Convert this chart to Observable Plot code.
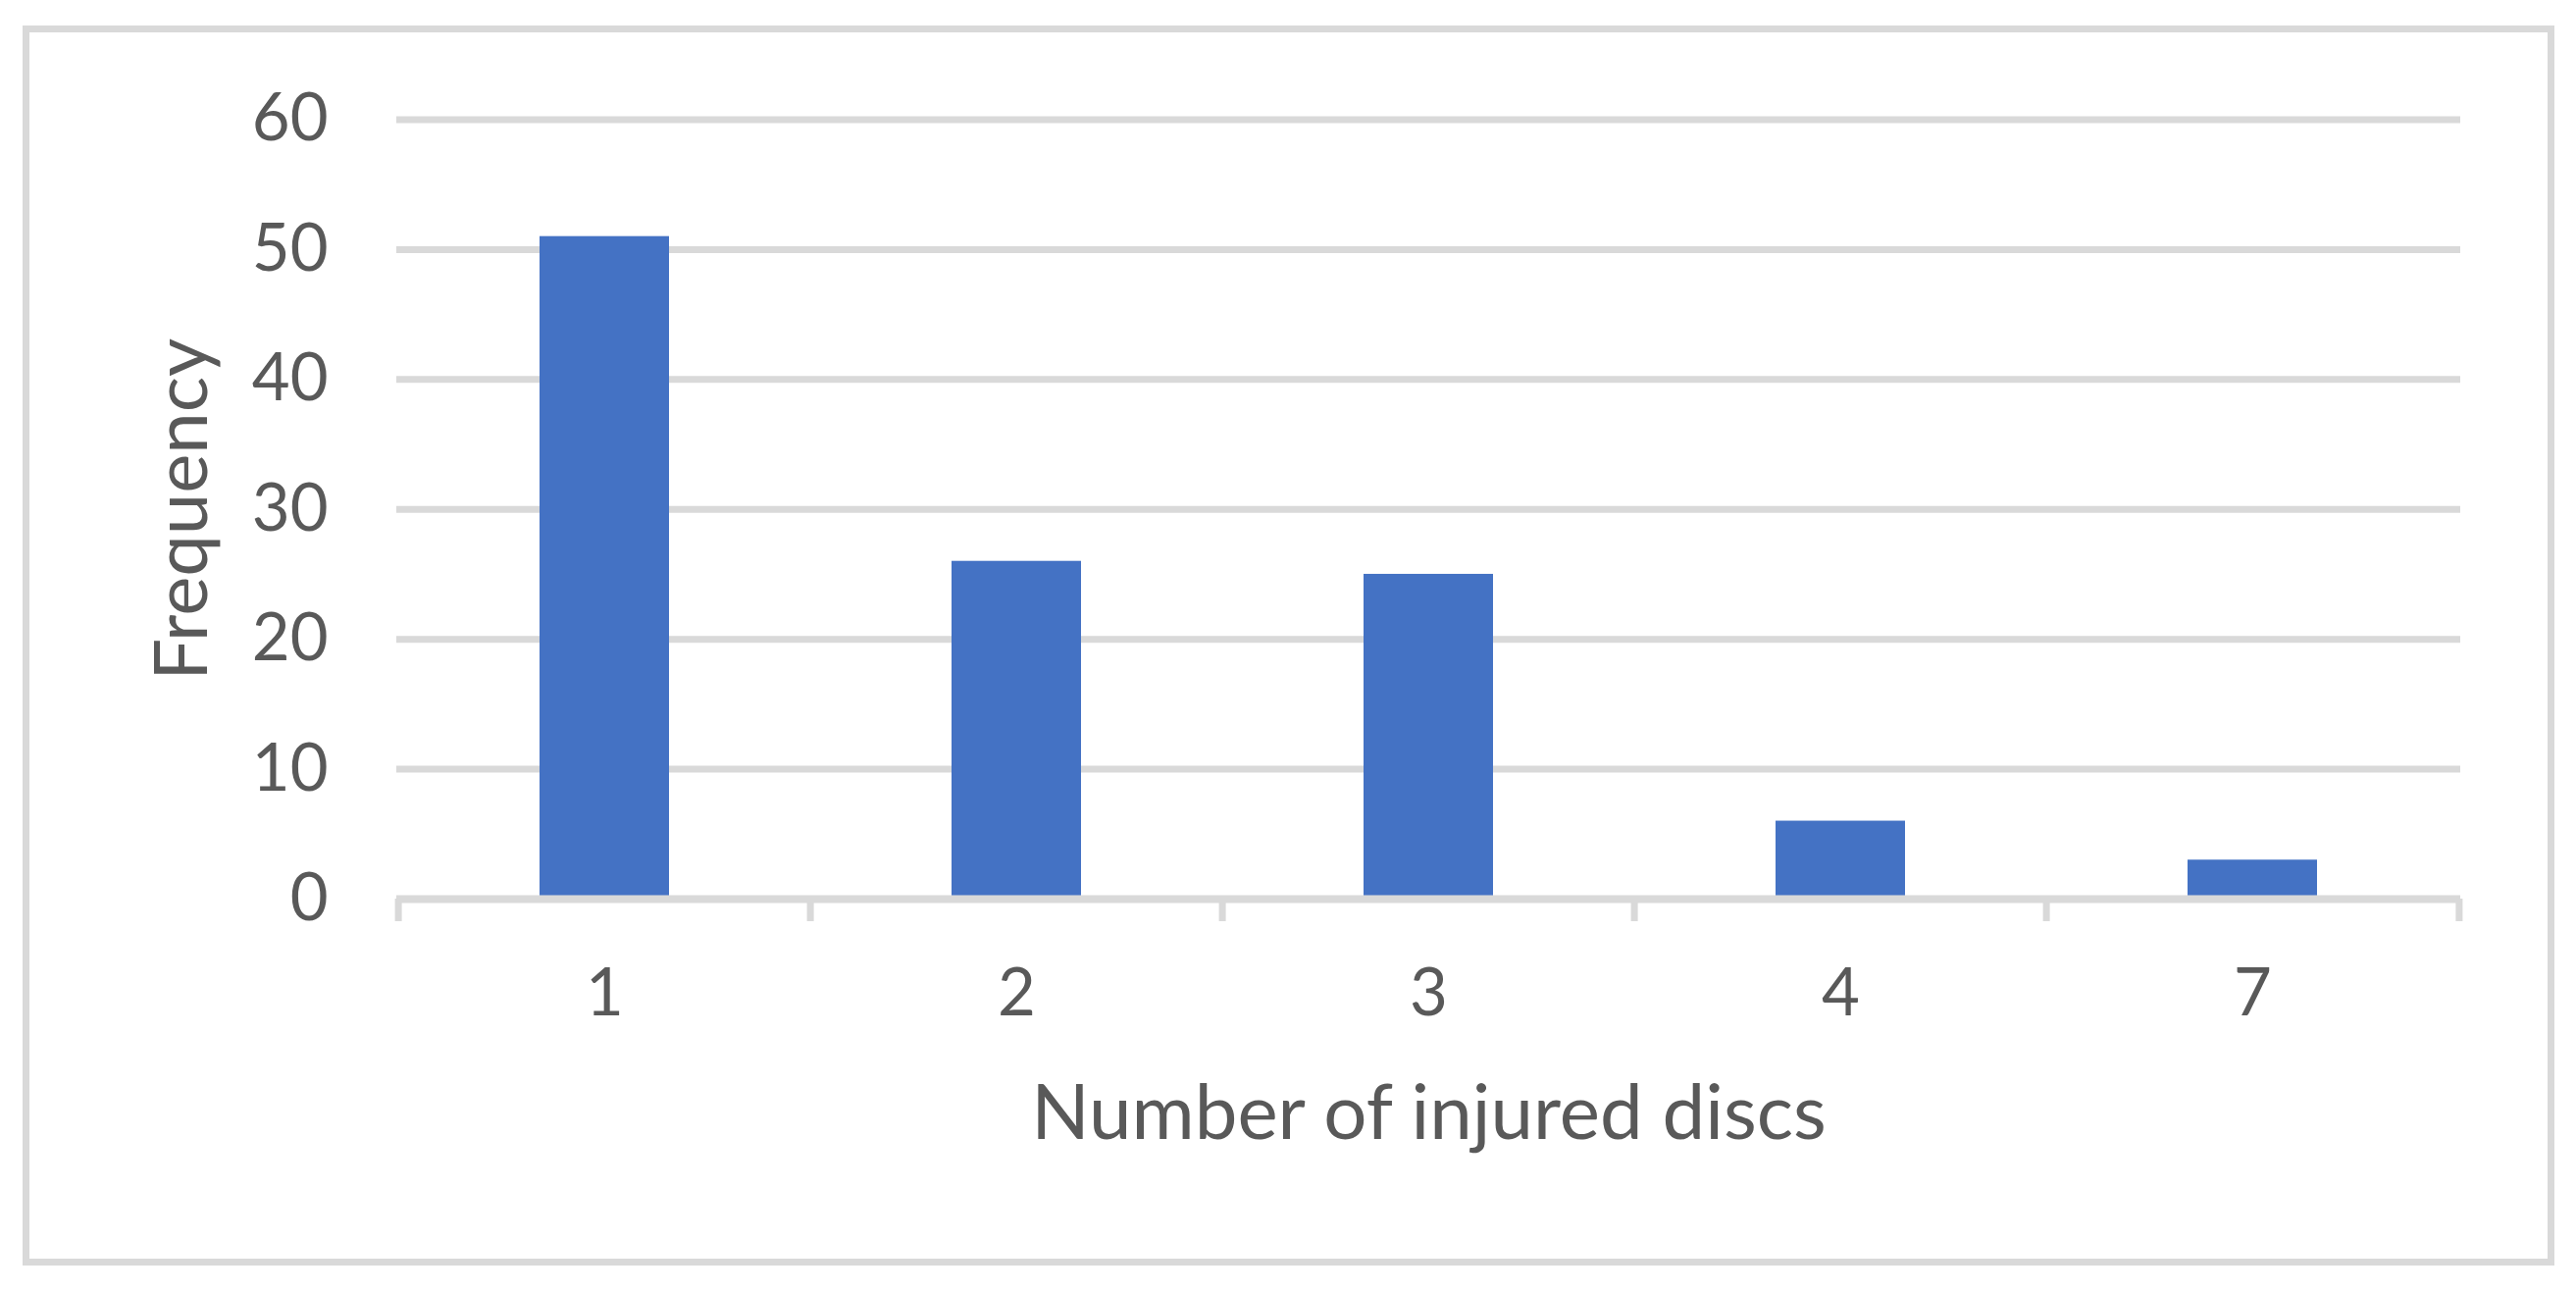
<!DOCTYPE html>
<html>
<head>
<meta charset="utf-8">
<script src="https://cdn.jsdelivr.net/npm/d3@7"></script>
<script src="https://cdn.jsdelivr.net/npm/@observablehq/plot@0.6"></script>
<style>
  html, body { margin: 0; padding: 0; background: #ffffff; }
  #wrap { position: relative; width: 2626px; height: 1317px; background: #ffffff; overflow: hidden; }
  #border { position: absolute; left: 23px; top: 26px; width: 2581px; height: 1264px; box-sizing: border-box; border: 7px solid #d9d9d9; }
  #chart { position: absolute; left: 0; top: 0; }
</style>
</head>
<body>
<div id="wrap">
  <div id="border"></div>
  <div id="chart"></div>
</div>
<script>
// Data
const categories = ["1", "2", "3", "4", "7"];
const frequencies = [51, 26, 25, 6, 3];
const yTicks = [0, 10, 20, 30, 40, 50, 60];
const xTitle = "Number of injured discs";
const yTitle = "Frequency";

const data = categories.map((c, i) => ({cat: c, freq: frequencies[i]}));

const W = 2626, H = 1317;
const mL = 404, mR = 118, mT = 121.5, mB = 401;
const step = (W - mL - mR) / categories.length;
const grid = "#d9d9d9";
const ink = "#595959";

const chart = Plot.plot({
  width: W,
  height: H,
  marginLeft: mL,
  marginRight: mR,
  marginTop: mT,
  marginBottom: mB,
  style: {fontFamily: "Lato, 'Open Sans', sans-serif", color: ink, background: "transparent", overflow: "visible"},
  x: {type: "band", domain: categories, paddingInner: 0.686, paddingOuter: 0.343},
  y: {domain: [0, 60]},
  marks: [
    Plot.gridY(yTicks.filter(d => d > 0), {stroke: grid, strokeWidth: 7, strokeOpacity: 1}),
    Plot.barY(data, {x: "cat", y: "freq", fill: "#4472C4"}),
    Plot.ruleY([0], {stroke: grid, strokeWidth: 8}),
    Plot.ruleX(categories, {x: d => d, y1: 0, y2: 0, insetBottom: -23, dx: -step / 2, stroke: grid, strokeWidth: 7}),
    Plot.ruleX(categories.slice(-1), {x: d => d, y1: 0, y2: 0, insetBottom: -23, dx: step / 2, stroke: grid, strokeWidth: 7}),
    Plot.axisX({tickSize: 0, tickPadding: 71, fontSize: 67, fill: ink, label: null}),
    Plot.axisY({ticks: yTicks, tickSize: 0, tickPadding: 70, fontSize: 67, fill: ink, label: null}),
    Plot.text([xTitle], {text: d => d, frameAnchor: "bottom", textAnchor: "middle", lineAnchor: "middle", dy: 220, fontSize: 78, fill: ink}),
    Plot.text([yTitle], {text: d => d, frameAnchor: "left", textAnchor: "middle", rotate: -90, lineAnchor: "middle", dx: -218, fontSize: 76, fill: ink})
  ]
});
document.getElementById("chart").appendChild(chart);
</script>
</body>
</html>
